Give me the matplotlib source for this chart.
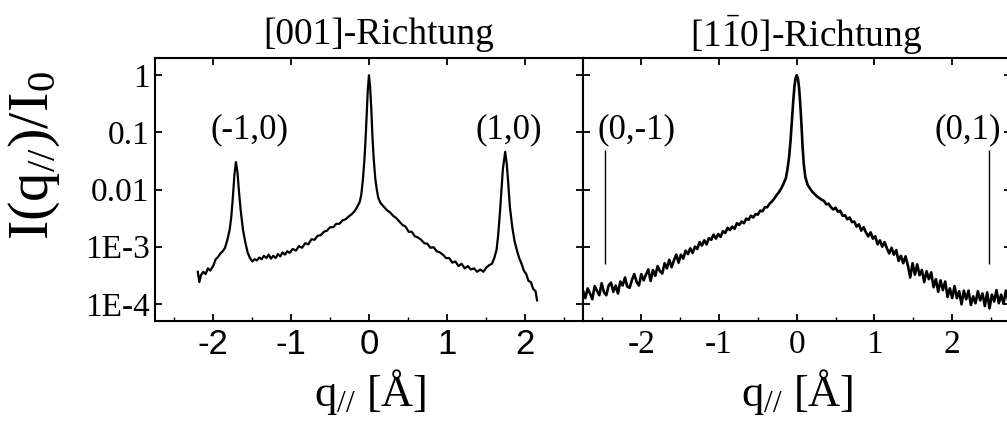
import numpy as np
import matplotlib
matplotlib.use("Agg")
import matplotlib.pyplot as plt
from matplotlib.ticker import FixedLocator, NullLocator

plt.rcParams['mathtext.fontset'] = 'custom'
plt.rcParams['mathtext.rm'] = 'Liberation Serif'
plt.rcParams['mathtext.it'] = 'Liberation Serif:italic'

SERIF = 'Liberation Serif'
SANS = 'Liberation Sans'

# ---------------- data: [001]-direction (q, log10 I/I0) ----------------
q_001 = [-2.20, -2.18, -2.16, -2.13, -2.10, -2.07, -2.04, -2.00, -1.97, -1.94,
         -1.91, -1.88, -1.85, -1.82, -1.79, -1.77, -1.75, -1.73, -1.71, -1.69,
         -1.67, -1.65, -1.62, -1.59, -1.56, -1.53, -1.50, -1.47, -1.44, -1.41,
         -1.38, -1.35, -1.32, -1.29, -1.26, -1.23, -1.20, -1.17, -1.14, -1.11,
         -1.08, -1.05, -1.02, -0.98, -0.94, -0.90, -0.86, -0.82, -0.78, -0.74,
         -0.70, -0.66, -0.62, -0.58, -0.54, -0.50, -0.46, -0.42, -0.38, -0.34,
         -0.30, -0.26, -0.22, -0.18, -0.15, -0.12, -0.10, -0.08, -0.06, -0.045,
         -0.03, -0.015, 0.0, 0.015, 0.03, 0.045, 0.06, 0.08, 0.10, 0.12,
         0.15, 0.19, 0.23, 0.27, 0.31, 0.35, 0.39, 0.43, 0.47, 0.51,
         0.55, 0.59, 0.63, 0.67, 0.71, 0.75, 0.79, 0.83, 0.87, 0.91,
         0.95, 0.99, 1.03, 1.07, 1.11, 1.15, 1.19, 1.23, 1.27, 1.31,
         1.35, 1.39, 1.43, 1.47, 1.51, 1.55, 1.58, 1.61, 1.64, 1.66,
         1.68, 1.70, 1.72, 1.75, 1.77, 1.79, 1.81, 1.84, 1.87, 1.90,
         1.93, 1.96, 1.99, 2.02, 2.05, 2.08, 2.11, 2.14, 2.16]
logI_001 = [-3.44, -3.62, -3.50, -3.44, -3.48, -3.38, -3.42, -3.33, -3.22, -3.18,
            -3.12, -3.08, -3.02, -2.88, -2.70, -2.48, -2.15, -1.75, -1.52, -1.70,
            -2.05, -2.35, -2.70, -2.92, -3.10, -3.20, -3.26, -3.22, -3.24, -3.19,
            -3.22, -3.16, -3.20, -3.14, -3.21, -3.16, -3.20, -3.13, -3.17, -3.10,
            -3.14, -3.08, -3.11, -3.04, -3.07, -2.99, -3.02, -2.94, -2.96, -2.87,
            -2.88, -2.81, -2.80, -2.74, -2.72, -2.66, -2.66, -2.60, -2.60, -2.54,
            -2.52, -2.47, -2.43, -2.37, -2.30, -2.22, -2.10, -1.85, -1.50, -1.15,
            -0.70, -0.25, 0.00, -0.22, -0.60, -1.10, -1.45, -1.80, -2.00, -2.15,
            -2.24, -2.30, -2.36, -2.40, -2.46, -2.50, -2.56, -2.62, -2.65, -2.74,
            -2.74, -2.82, -2.84, -2.88, -2.94, -2.95, -3.02, -3.01, -3.08, -3.10,
            -3.14, -3.20, -3.20, -3.28, -3.26, -3.34, -3.30, -3.38, -3.34, -3.40,
            -3.38, -3.44, -3.40, -3.44, -3.36, -3.32, -3.30, -3.20, -3.05, -2.80,
            -2.45, -2.05, -1.65, -1.34, -1.55, -1.90, -2.30, -2.65, -2.90, -3.06,
            -3.20, -3.30, -3.42, -3.48, -3.60, -3.62, -3.74, -3.78, -3.94]

# ---------------- data: [1-10]-direction (q, log10 I/I0) ----------------
q_110 = [-2.75, -2.72, -2.69, -2.66, -2.63, -2.60, -2.57, -2.54, -2.51, -2.48,
         -2.45, -2.42, -2.39, -2.36, -2.33, -2.30, -2.27, -2.24, -2.21, -2.18,
         -2.15, -2.12, -2.09, -2.06, -2.03, -2.00, -1.97, -1.94, -1.91, -1.88,
         -1.85, -1.82, -1.79, -1.76, -1.73, -1.70, -1.67, -1.64, -1.61, -1.58,
         -1.55, -1.52, -1.49, -1.46, -1.43, -1.40, -1.37, -1.34, -1.31, -1.28,
         -1.25, -1.22, -1.19, -1.16, -1.13, -1.10, -1.07, -1.04, -1.01, -0.98,
         -0.95, -0.92, -0.89, -0.86, -0.83, -0.80, -0.77, -0.74, -0.71, -0.68,
         -0.65, -0.62, -0.59, -0.56, -0.53, -0.50, -0.47, -0.44, -0.41, -0.38,
         -0.35, -0.32, -0.29, -0.26, -0.23, -0.20, -0.17, -0.14, -0.12, -0.10,
         -0.08, -0.06, -0.045, -0.03, -0.015, 0.0, 0.015, 0.03, 0.045, 0.06,
         0.075, 0.09, 0.11, 0.14, 0.17, 0.20, 0.23, 0.26, 0.29, 0.32,
         0.35, 0.38, 0.41, 0.44, 0.47, 0.50, 0.53, 0.56, 0.59, 0.62,
         0.65, 0.68, 0.71, 0.74, 0.77, 0.80, 0.83, 0.86, 0.89, 0.92,
         0.95, 0.98, 1.01, 1.04, 1.07, 1.10, 1.13, 1.16, 1.19, 1.22,
         1.25, 1.28, 1.31, 1.34, 1.37, 1.40, 1.43, 1.46, 1.49, 1.52,
         1.55, 1.58, 1.61, 1.64, 1.67, 1.70, 1.73, 1.76, 1.79, 1.82,
         1.85, 1.88, 1.91, 1.94, 1.97, 2.00, 2.03, 2.06, 2.09, 2.12,
         2.15, 2.18, 2.21, 2.24, 2.27, 2.30, 2.33, 2.36, 2.39, 2.42,
         2.45, 2.48, 2.51, 2.54, 2.57, 2.60, 2.63, 2.66, 2.69, 2.72, 2.75]
logI_110 = [-3.77, -3.90, -3.73, -3.82, -3.92, -3.69, -3.77, -3.85, -3.64, -3.80,
            -3.85, -3.68, -3.63, -3.79, -3.68, -3.82, -3.61, -3.68, -3.54, -3.70,
            -3.72, -3.58, -3.48, -3.62, -3.68, -3.48, -3.59, -3.49, -3.40, -3.60,
            -3.41, -3.51, -3.34, -3.43, -3.47, -3.29, -3.38, -3.23, -3.36, -3.24,
            -3.14, -3.28, -3.14, -3.21, -3.07, -3.13, -3.03, -3.11, -3.00, -3.04,
            -2.92, -2.98, -2.89, -2.96, -2.85, -2.88, -2.79, -2.86, -2.78, -2.83,
            -2.73, -2.76, -2.67, -2.71, -2.65, -2.69, -2.59, -2.62, -2.56, -2.59,
            -2.51, -2.53, -2.46, -2.49, -2.43, -2.44, -2.37, -2.38, -2.31, -2.31,
            -2.25, -2.21, -2.16, -2.10, -2.05, -1.98, -1.90, -1.80, -1.65, -1.45,
            -1.15, -0.75, -0.45, -0.20, -0.05, 0.00, -0.06, -0.22, -0.50, -0.85,
            -1.25, -1.55, -1.78, -1.92, -1.98, -2.04, -2.08, -2.12, -2.15, -2.18,
            -2.20, -2.26, -2.25, -2.31, -2.35, -2.32, -2.39, -2.37, -2.46, -2.45,
            -2.52, -2.49, -2.57, -2.56, -2.65, -2.61, -2.72, -2.66, -2.75, -2.82,
            -2.75, -2.86, -2.82, -2.96, -2.89, -3.00, -2.92, -3.03, -3.12, -3.02,
            -3.14, -3.06, -3.25, -3.16, -3.29, -3.17, -3.33, -3.54, -3.29, -3.49,
            -3.31, -3.50, -3.41, -3.62, -3.43, -3.57, -3.45, -3.71, -3.57, -3.79,
            -3.59, -3.76, -3.61, -3.88, -3.73, -3.90, -3.69, -3.90, -3.78, -4.01,
            -3.77, -3.92, -3.77, -4.02, -3.87, -3.99, -3.78, -3.94, -3.82, -4.04,
            -3.80, -4.08, -3.84, -3.96, -3.76, -3.99, -3.84, -4.00, -3.77, -3.94, -3.79]

# marker lines for the (0,-1) and (0,1) positions
marker_q = [-2.47, 2.47]
marker_lo = 5.0e-4
marker_hi = 0.05

yticks = [1e-4, 1e-3, 1e-2, 1e-1, 1]
yticklabels = ['1E-4', '1E-3', '0.01', '0.1', '1']
xticks = [-2, -1, 0, 1, 2]
xticklabels = ['-2', '-1', '0', '1', '2']
xminor = [-2.5, -1.5, -0.5, 0.5, 1.5, 2.5]

titles = ['[001]-Richtung', r'[1$\mathregular{\bar{1}}$0]-Richtung']
ann_001 = [('(-1,0)', -1.54, 0.11), ('(1,0)', 1.79, 0.11)]
ann_110 = [('(0,-1)', -2.06, 0.11), ('(0,1)', 2.20, 0.11)]

W, H = 1007, 421
fig = plt.figure(figsize=(W / 100, H / 100), dpi=100)

def px_rect(x0, y0, x1, y1):
    return [x0 / W, 1 - y1 / H, (x1 - x0) / W, (y1 - y0) / H]

ax1 = fig.add_axes(px_rect(155, 58, 583, 321))
ax2 = fig.add_axes(px_rect(583, 58, 1010.5, 321))

for ax in (ax1, ax2):
    ax.set_yscale('log')
    ax.set_xlim(-2.75, 2.75)
    ax.set_ylim(5e-5, 2)
    for s in ax.spines.values():
        s.set_linewidth(1.5)
    ax.yaxis.set_major_locator(FixedLocator(yticks))
    ax.yaxis.set_minor_locator(NullLocator())
    ax.xaxis.set_major_locator(FixedLocator(xticks))
    ax.xaxis.set_minor_locator(FixedLocator(xminor))
    ax.tick_params(which='major', direction='in', length=5, width=1.3,
                   top=True, right=True, pad=4)
    ax.tick_params(which='minor', direction='in', length=3, width=1.0,
                   top=False, bottom=True)
    ax.tick_params(axis='y', which='both', left=True, right=True)

ax1.plot(q_001, 10 ** np.array(logI_001), color='black', lw=1.6)
ax2.plot(q_110, 10 ** np.array(logI_110), color='black', lw=1.9)
ax2.vlines(marker_q, marker_lo, marker_hi, color='black', lw=1.0)

# tick labels
ax1.set_yticklabels(yticklabels, fontfamily=SERIF, fontsize=24)
ax1.set_xticks(xticks)
ax1.set_xticklabels(xticklabels, fontfamily=SANS, fontsize=25)
ax2.set_yticklabels([])
ax2.set_xticks(xticks)
ax2.set_xticklabels(xticklabels, fontfamily=SERIF, fontsize=24)
ax1.tick_params(axis='x', which='major', pad=5)
ax2.tick_params(axis='x', which='major', pad=6)

# titles
fig.text(379 / W, 1 - 35 / H, titles[0], fontfamily=SERIF, fontsize=27,
         ha='center', va='center')
fig.text(806 / W, 1 - 35 / H, titles[1], fontfamily=SERIF, fontsize=27,
         ha='center', va='center')

for txt, x, y in ann_001:
    ax1.text(x, y, txt, fontfamily=SERIF, fontsize=25, ha='center', va='center')
for txt, x, y in ann_110:
    ax2.text(x, y, txt, fontfamily=SERIF, fontsize=25, ha='center', va='center')

# axis labels
xlab = r'q$_{\mathregular{//}}$ [Å]'
fig.text(370 / W, 1 - 392 / H, xlab, fontfamily=SERIF, fontsize=32,
         ha='center', va='center')
fig.text(797 / W, 1 - 392 / H, xlab, fontfamily=SERIF, fontsize=32,
         ha='center', va='center')
fig.text(34 / W, 1 - 156 / H, r'I(q$_{\mathregular{//}}$)/I$_{\mathregular{0}}$',
         fontfamily=SERIF, fontsize=42, rotation=90, ha='center', va='center')

fig.savefig('out.png', dpi=100)
